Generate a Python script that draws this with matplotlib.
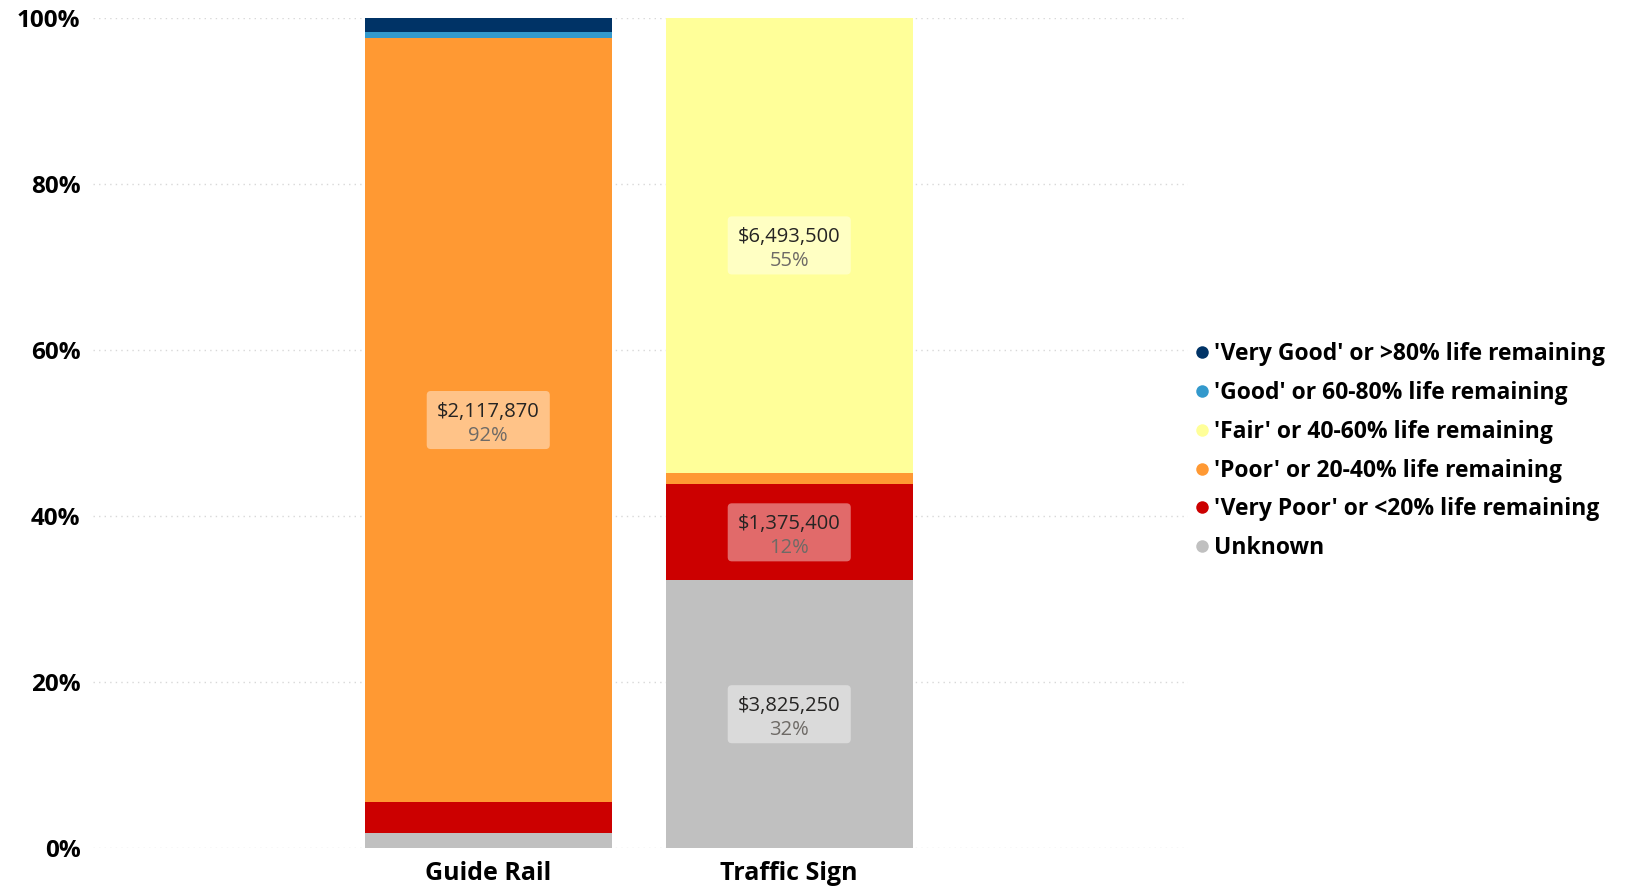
import matplotlib
matplotlib.use("Agg")
import matplotlib.pyplot as plt
import matplotlib.transforms as mtransforms
from matplotlib.patches import FancyBboxPatch
from matplotlib.lines import Line2D
from matplotlib.ticker import FuncFormatter
import numpy as np

plt.rcParams["font.family"] = ["Open Sans", "DejaVu Sans"]

# Replacement value ($) by asset class and condition
assets = ["Guide Rail", "Traffic Sign"]
conditions = [
    "Unknown",
    "'Very Poor' or <20% life remaining",
    "'Poor' or 20-40% life remaining",
    "'Fair' or 40-60% life remaining",
    "'Good' or 60-80% life remaining",
    "'Very Good' or >80% life remaining",
]
colors = ["#C0C0C0", "#CC0000", "#FF9933", "#FFFF99", "#3399CC", "#003366"]

unknown   = [40700, 3825250]
very_poor = [87700, 1375400]
poor      = [2117870, 167000]
fair      = [0, 6493500]
good      = [16600, 0]
very_good = [38900, 0]

values = np.array([unknown, very_poor, poor, fair, good, very_good], dtype=float)
shares = values / values.sum(axis=0)

fig = plt.figure(figsize=(16.27, 8.89), dpi=100)
ax = fig.add_axes([0.0572, 0.0461, 0.673, 0.9333])

x = np.arange(len(assets))
bar_w = 0.82

bottom = np.zeros(len(assets))
for i, cond in enumerate(conditions):
    ax.bar(x, shares[i], bar_w, bottom=bottom, color=colors[i],
           edgecolor="none", zorder=3, label=cond)
    for j in range(len(assets)):
        if shares[i, j] < 0.1:
            continue
        cy = bottom[j] + shares[i, j] / 2
        # label box sized in points, anchored at the segment centre
        anchor = mtransforms.ScaledTranslation(x[j], cy, ax.transData)
        pt = mtransforms.Affine2D().scale(1 / 72) + fig.dpi_scale_trans
        box = FancyBboxPatch((-44.3, -20.9), 88.6, 41.8,
                             boxstyle="round,pad=0,rounding_size=3",
                             facecolor="white", alpha=0.42, edgecolor="none",
                             transform=pt + anchor, zorder=4)
        ax.add_patch(box)
        off_v = mtransforms.offset_copy(ax.transData, fig=fig, x=0, y=6, units="points")
        off_p = mtransforms.offset_copy(ax.transData, fig=fig, x=0, y=-11.5, units="points")
        ax.text(x[j], cy, f"${values[i, j]:,.0f}", transform=off_v,
                ha="center", va="center", fontsize=14.5, color="#252423", zorder=5)
        ax.text(x[j], cy, f"{shares[i, j]:.0%}", transform=off_p,
                ha="center", va="center", fontsize=14.5, color="#6E6A66", zorder=5)
    bottom += shares[i]

ax.set_xlim(-1.313, 2.325)
ax.set_ylim(0, 1)
ax.set_xticks(x)
ax.set_xticklabels(assets, fontsize=18, fontweight="bold")
# category labels sit a touch right of the bar centres
shift = mtransforms.ScaledTranslation(4 / 72, 0, fig.dpi_scale_trans)
for lab in ax.get_xticklabels():
    lab.set_transform(lab.get_transform() + shift)
ax.set_yticks(np.linspace(0, 1, 6))
ax.yaxis.set_major_formatter(FuncFormatter(lambda v, _: f"{v:.0%}"))
for lab in ax.get_yticklabels():
    lab.set_fontsize(17.5)
    lab.set_fontweight("bold")
ax.tick_params(axis="y", length=0, pad=9, colors="black")
ax.tick_params(axis="x", length=0, pad=9, colors="black")

ax.yaxis.grid(True, color="#D8D8D8", linestyle=(0, (1, 3)), linewidth=1)
ax.set_axisbelow(True)
for sp in ax.spines.values():
    sp.set_visible(False)

handles = [Line2D([], [], marker="o", linestyle="none", markersize=9,
                  markerfacecolor=colors[i], markeredgecolor="none")
           for i in range(len(conditions))][::-1]
fig.legend(handles, conditions[::-1], loc="upper left",
           bbox_to_anchor=(0.7347, 0.615), frameon=False,
           prop={"size": 16.5, "weight": "bold"}, handlelength=0.6,
           handletextpad=0.2, labelspacing=0.645, borderpad=0, borderaxespad=0)

fig.savefig("out.png", dpi=100)
